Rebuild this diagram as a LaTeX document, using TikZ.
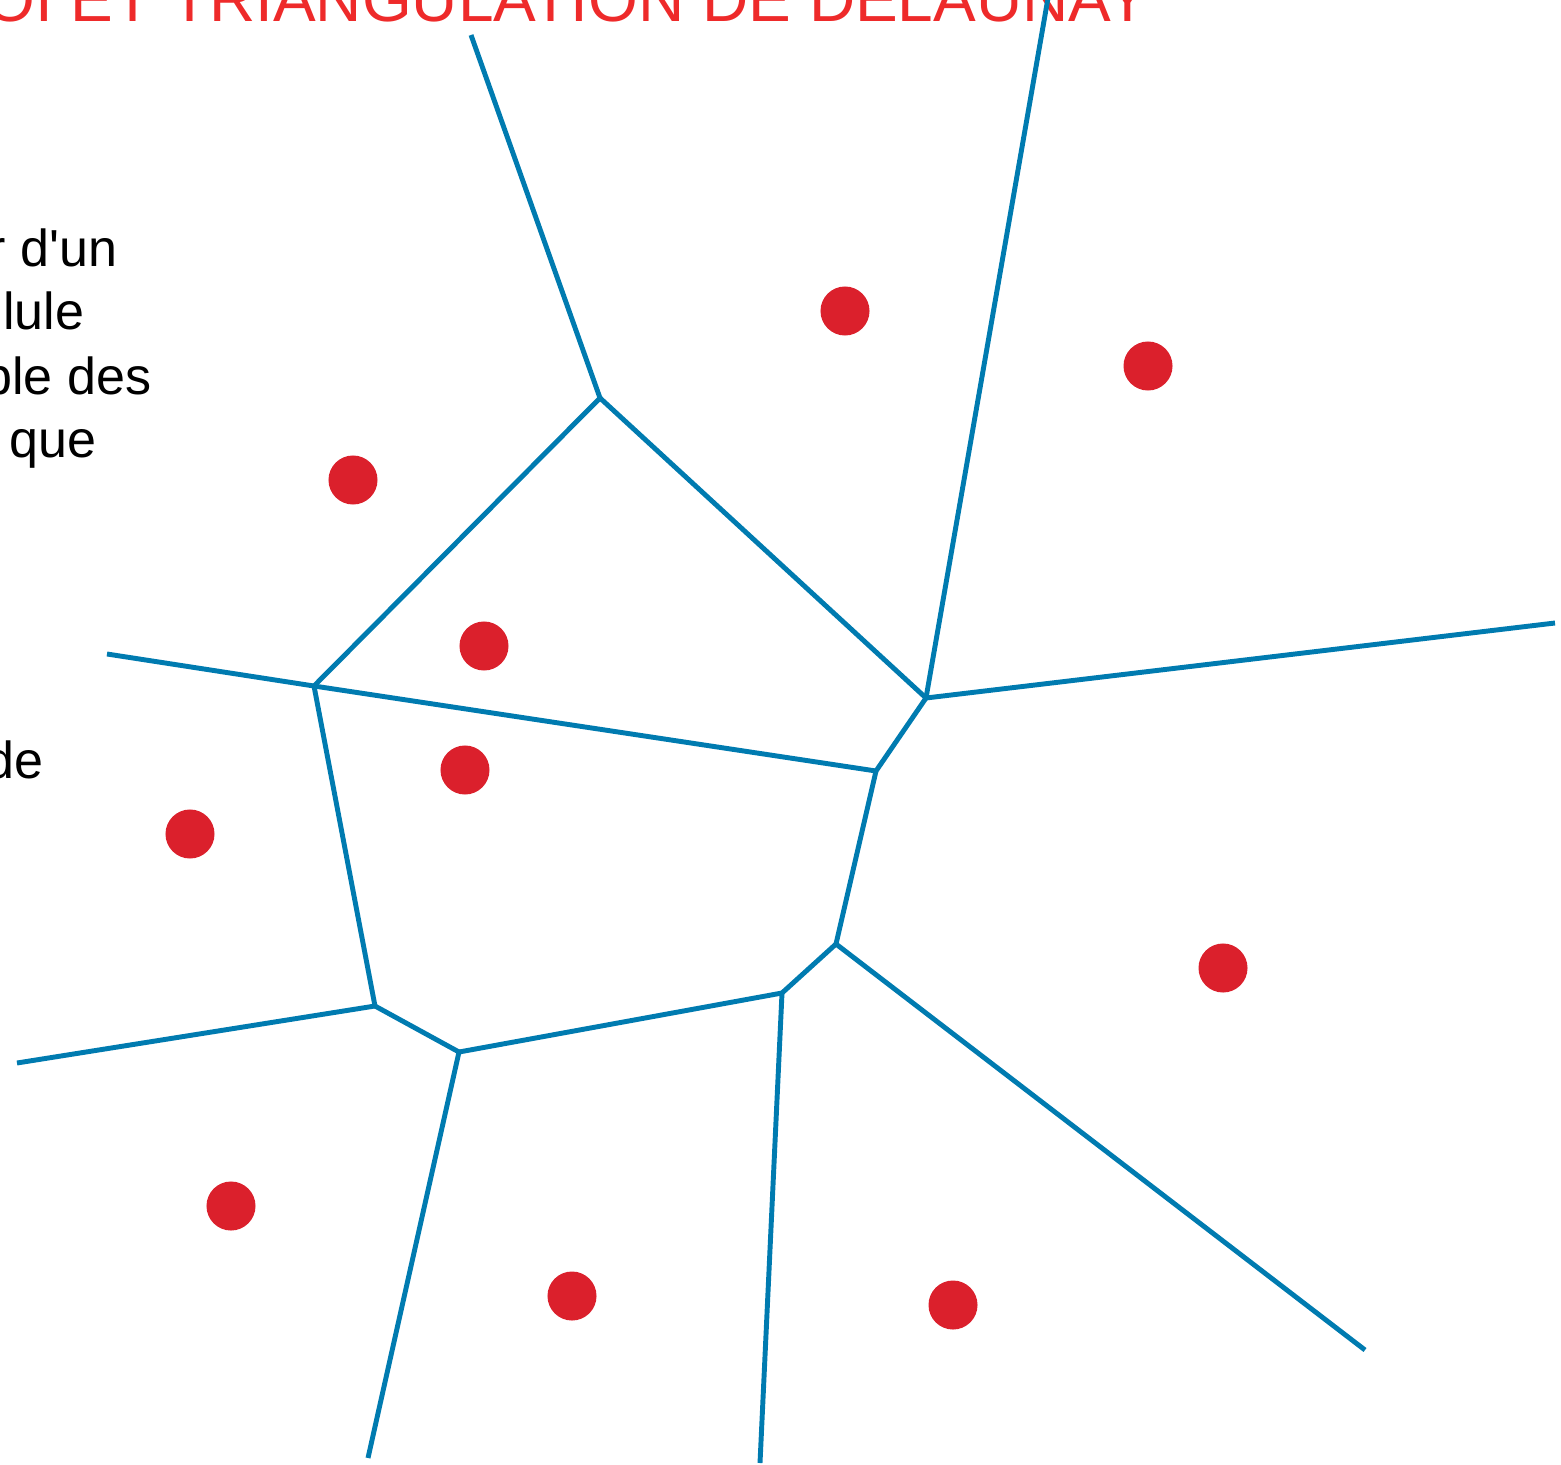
\documentclass[tikz,border=0pt]{standalone}
\usepackage{fontspec}
\setmainfont{Liberation Sans}
\definecolor{cellblue}{HTML}{007BB0}
\definecolor{seedred}{HTML}{DB202C}
\definecolor{titlered}{HTML}{EE2A2A}
\tikzset{
  cell/.style = {draw=cellblue, line width=1.4pt},
  seed/.style = {circle, fill=seedred, minimum size=0.49cm, inner sep=0pt},
  bodytext/.style = {anchor=base east, inner sep=0pt, font=\fontsize{14.8pt}{17pt}\selectfont}
}

\begin{document}
\begin{tikzpicture}[x=0.01cm,y=-0.01cm]
  \useasboundingbox (0,0) rectangle (1561,1464);
  % title, cut by the page
  \node (title) at (1150,22) [anchor=base east, inner sep=0pt, text=titlered, font=\fontsize{18.2pt}{20pt}\selectfont] {OI ET TRIANGULATION DE DELAUNAY};
  % text, cut by the page
  \node (t1) at (118,267) [bodytext] {r d\textquotesingle un};
  \node (t2) at (85,330) [bodytext] {lule};
  \node (t3) at (152,395) [bodytext] {ble des};
  \node (t4) at (97,458) [bodytext] {que};
  \node (t5) at (44,778) [bodytext] {de};
  % vertices
  \coordinate (A) at (600,398);
  \coordinate (B) at (314,686);
  \coordinate (C) at (926,698);
  \coordinate (D) at (876,771);
  \coordinate (E) at (836,944);
  \coordinate (F) at (782,993);
  \coordinate (G) at (459,1052);
  \coordinate (H) at (375,1006);
  % ray ends
  \coordinate (rA) at (471,35);
  \coordinate (rC1) at (1048,-2);
  \coordinate (rC2) at (1555,623);
  \coordinate (rB) at (107,654);
  \coordinate (rH) at (17,1063);
  \coordinate (rG) at (368,1458);
  \coordinate (rF) at (760,1463);
  \coordinate (rE) at (1365,1350);
  % edges
  \draw[cell] (A) -- (B);
  \draw[cell] (A) -- (C);
  \draw[cell] (B) -- (D);
  \draw[cell] (C) -- (D);
  \draw[cell] (D) -- (E);
  \draw[cell] (E) -- (F);
  \draw[cell] (F) -- (G);
  \draw[cell] (G) -- (H);
  \draw[cell] (H) -- (B);
  % rays
  \draw[cell] (A) -- (rA);
  \draw[cell] (C) -- (rC1);
  \draw[cell] (C) -- (rC2);
  \draw[cell] (B) -- (rB);
  \draw[cell] (H) -- (rH);
  \draw[cell] (G) -- (rG);
  \draw[cell] (F) -- (rF);
  \draw[cell] (E) -- (rE);
  % seeds
  \node (s1) at (845,311) [seed] {};
  \node (s2) at (1148,366) [seed] {};
  \node (s3) at (353,480) [seed] {};
  \node (s4) at (484,646) [seed] {};
  \node (s5) at (465,770) [seed] {};
  \node (s6) at (190,834) [seed] {};
  \node (s7) at (1223,968) [seed] {};
  \node (s8) at (231,1206) [seed] {};
  \node (s9) at (572,1296) [seed] {};
  \node (s10) at (953,1305) [seed] {};
\end{tikzpicture}
\end{document}
